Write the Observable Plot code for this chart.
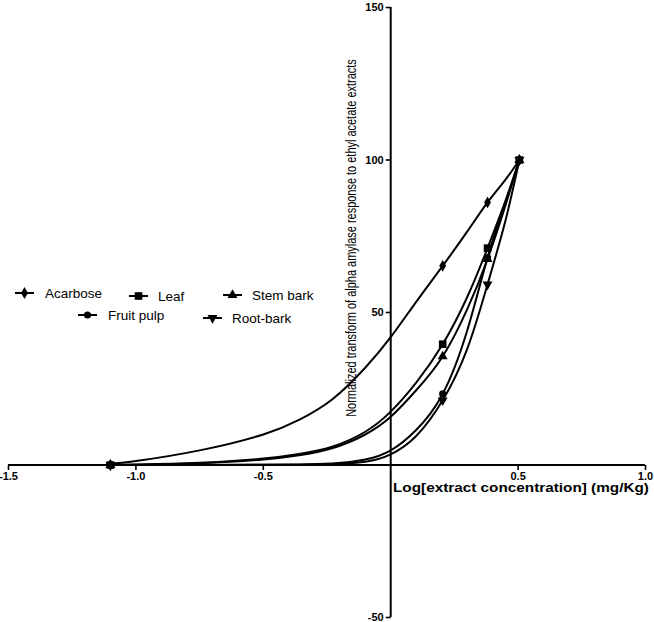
<!DOCTYPE html>
<html>
<head>
<meta charset="utf-8">
<script src="https://cdn.jsdelivr.net/npm/d3@7"></script>
<script src="https://cdn.jsdelivr.net/npm/@observablehq/plot@0.6"></script>
<style>
  html, body { margin: 0; padding: 0; background: #fff; }
  #chart { position: relative; width: 654px; height: 622px; }
  #chart svg { overflow: visible; }
</style>
</head>
<body>
<div id="chart"></div>
<script>
// ---- data ----
const seriesNames = ["Acarbose", "Leaf", "Stem bark", "Fruit pulp", "Root-bark"];

// measured points
const pointX = [-1.1, 0.204, 0.38, 0.505];
const acarbosePts = [0, 65.3, 86.1, 100];
const leafPts = [0, 39.6, 71.1, 100];
const stemPts = [0, 35.6, 67.5, 100];
const fruitPts = [0, 23.3, 68, 100];
const rootPts = [0, 21.2, 59.2, 100];

// fitted curves
const curveX = [-1.1, -1.0, -0.75, -0.5, -0.36, -0.23, -0.1, 0, 0.1, 0.204, 0.3, 0.38, 0.45, 0.505];
const acarboseCurve = [0.4, 1.3, 4.8, 10.0, 14.8, 21.5, 31.9, 41.9, 53.5, 65.3, 76.5, 86.1, 93.5, 100];
const leafCurve = [0, 0.15, 0.7, 2.1, 3.6, 6.0, 10.9, 17.5, 27, 39.6, 55, 71.1, 86.5, 100];
const stemCurve = [0, 0.1, 0.6, 1.8, 3.2, 5.5, 10.0, 15.8, 24.5, 35.6, 51, 67.5, 85, 100];
const fruitCurve = [0, 0, 0, 0.1, 0.2, 0.5, 1.8, 4.8, 11.5, 23.3, 44, 68, 86, 100];
const rootCurve = [0, 0, 0, 0.05, 0.1, 0.3, 1.1, 3.5, 9.5, 21.2, 38, 59.2, 80, 100];

const xTicks = [-1.5, -1.0, -0.5, 0.5, 1.0];
const xTickLabels = ["-1.5", "-1.0", "-0.5", "0.5", "1.0"];
const yTicks = [150, 100, 50, -50];
const yTickLabels = ["150", "100", "50", "-50"];

const xLabel = "Log[extract concentration] (mg/Kg)";
const yLabel = "Normalized transform of alpha amylase response to ethyl acetate extracts";

// ---- build tables ----
const ptsBySeries = [acarbosePts, leafPts, stemPts, fruitPts, rootPts];
const curvesBySeries = [acarboseCurve, leafCurve, stemCurve, fruitCurve, rootCurve];
const curves = [];
seriesNames.forEach((s, i) => curvesBySeries[i].forEach((y, j) => curves.push({series: s, x: curveX[j], y})));
const pointsFor = (i) => ptsBySeries[i].map((y, j) => ({series: seriesNames[i], x: pointX[j], y}));

// ---- symbols ----
const sqrt3 = Math.sqrt(3);
const triangleDown = {
  draw(ctx, size) {
    const y = -Math.sqrt(size / (sqrt3 * 3));
    ctx.moveTo(0, -y * 2);
    ctx.lineTo(-sqrt3 * y, y);
    ctx.lineTo(sqrt3 * y, y);
    ctx.closePath();
  }
};
const tickDown = { draw(ctx) { ctx.moveTo(0, 0); ctx.lineTo(0, 5); } };
const tickLeft = { draw(ctx) { ctx.moveTo(0, 0); ctx.lineTo(-5, 0); } };
const symbolsFor = ["diamond", "square", "triangle", "circle", triangleDown];
const radii = [3.6, 4.3, 3.7, 3.6, 3.7];

const font = "'Liberation Sans', Arial, Helvetica, sans-serif";
const drawOrder = [0, 2, 3, 4, 1];

const plot = Plot.plot({
  width: 654,
  height: 622,
  marginLeft: 8,
  marginRight: 9,
  marginTop: 7,
  marginBottom: 5,
  x: {domain: [-1.5, 1.0], axis: null},
  y: {domain: [-50, 150], axis: null},
  style: {fontFamily: font, background: "white", color: "black"},
  marks: [
    Plot.ruleY([0], {stroke: "black", strokeWidth: 2}),
    Plot.ruleX([0], {stroke: "black", strokeWidth: 2}),
    Plot.dot(xTicks, {x: d => d, y: 0, symbol: tickDown, r: 1, fill: "none", stroke: "black", strokeWidth: 1.6}),
    Plot.dot(yTicks, {x: 0, y: d => d, symbol: tickLeft, r: 1, fill: "none", stroke: "black", strokeWidth: 1.6}),
    Plot.text(xTicks, {x: d => d, y: 0, text: (d, i) => xTickLabels[i], dy: 11, fontSize: 11, fontWeight: "bold", fill: "black"}),
    Plot.text(yTicks, {x: 0, y: d => d, text: (d, i) => yTickLabels[i], dx: -7, textAnchor: "end", fontSize: 11, fontWeight: "bold", fill: "black"}),
    Plot.line(curves, {x: "x", y: "y", z: "series", curve: "natural", stroke: "black", strokeWidth: 2}),
    ...drawOrder.map(i => Plot.dot(pointsFor(i), {x: "x", y: "y", symbol: symbolsFor[i], r: radii[i], fill: "black", stroke: "none"}))
  ]
});

const chart = document.getElementById("chart");
chart.appendChild(plot);
const svg = d3.select(plot);

// axis titles (condensed by horizontal scaling to the reference's length)
function condensedText(g, str, size, weight, targetLen) {
  const t = g.append("text")
    .attr("font-family", font)
    .attr("font-size", size)
    .attr("font-weight", weight)
    .attr("dominant-baseline", "central")
    .attr("fill", "black")
    .text(str);
  const natural = t.node().getComputedTextLength() || targetLen;
  return {t, sx: targetLen / natural};
}

const yg = svg.append("g");
const yl = condensedText(yg, yLabel, 14.5, "normal", 358);
yl.t.attr("text-anchor", "middle");
yg.attr("transform", `translate(351,238) rotate(-90) scale(${yl.sx},1)`);

const xg = svg.append("g");
const xl = condensedText(xg, xLabel, 12, "bold", 256);
xl.t.attr("text-anchor", "start");
xg.attr("transform", `translate(393,488) scale(${xl.sx},1)`);

// legend
const legendLayout = [
  {x1: 15, y: 293, tx: 45},
  {x1: 129, y: 296, tx: 158},
  {x1: 223, y: 295, tx: 252},
  {x1: 78, y: 315, tx: 108},
  {x1: 203, y: 318, tx: 232}
];
const lg = svg.append("g");
seriesNames.forEach((s, i) => {
  const L = legendLayout[i];
  lg.append("line").attr("x1", L.x1).attr("x2", L.x1 + 19).attr("y1", L.y).attr("y2", L.y)
    .attr("stroke", "black").attr("stroke-width", 2);
  const sym = symbolsFor[i];
  const type = sym === "diamond" ? d3.symbolDiamond : sym === "square" ? d3.symbolSquare :
    sym === "triangle" ? d3.symbolTriangle : sym === "circle" ? d3.symbolCircle : sym;
  lg.append("path").attr("transform", `translate(${L.x1 + 9.5},${L.y})`)
    .attr("d", d3.symbol(type, radii[i] * radii[i] * Math.PI)()).attr("fill", "black");
  lg.append("text").attr("x", L.tx).attr("y", L.y)
    .attr("text-anchor", "start")
    .attr("dominant-baseline", "central")
    .attr("font-family", font).attr("font-size", 13.5).attr("fill", "black").text(s);
});
</script>
</body>
</html>
